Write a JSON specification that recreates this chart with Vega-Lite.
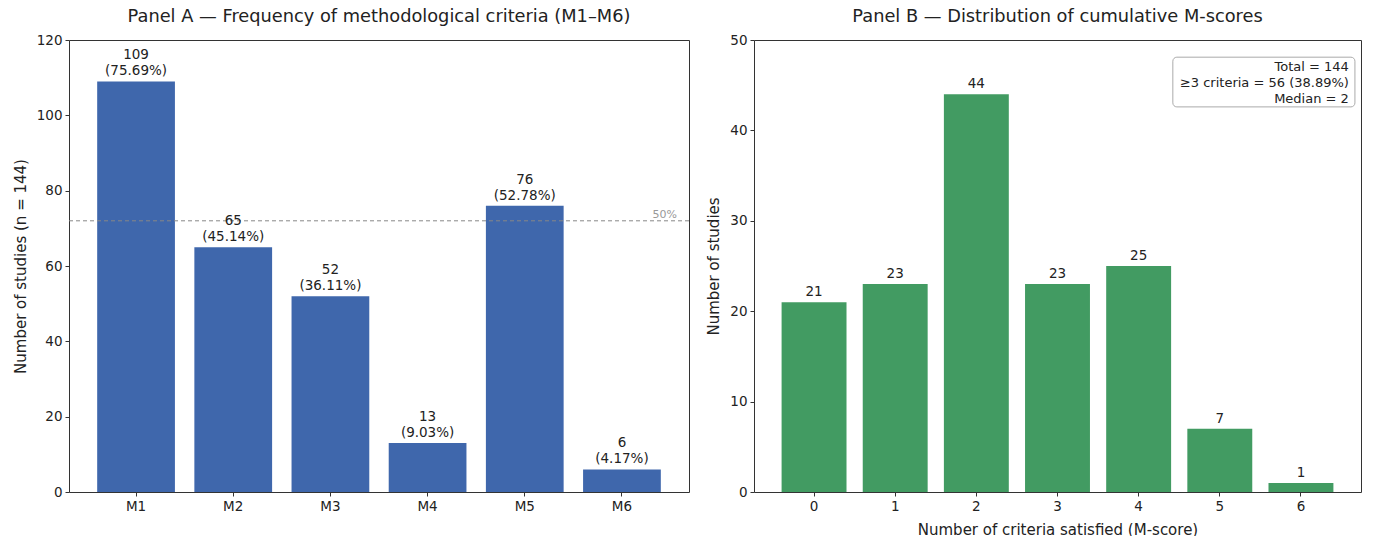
{
  "$schema": "https://vega.github.io/schema/vega-lite/v6.json",
  "background": "white",
  "padding": {"left": 12, "top": 7, "right": 5, "bottom": 5},
  "spacing": 16,
  "config": {
    "font": "DejaVu Sans",
    "view": {"stroke": "#333333", "strokeWidth": 1},
    "axis": {
      "domain": false, "grid": false, "tickColor": "#333333", "tickSize": 4,
      "labelFontSize": 13.5, "labelColor": "#222222", "labelPadding": 3,
      "titleFontSize": 15, "titleFontWeight": "normal", "titleColor": "#222222", "titlePadding": 8
    },
    "title": {"fontSize": 17.8, "fontWeight": "normal", "color": "#222222", "offset": 7, "anchor": "middle", "frame": "group"}
  },
  "datasets": {
    "criteria": [
      {"criterion": "M1", "count": 109, "label": "109\n(75.69%)"},
      {"criterion": "M2", "count": 65, "label": "65\n(45.14%)"},
      {"criterion": "M3", "count": 52, "label": "52\n(36.11%)"},
      {"criterion": "M4", "count": 13, "label": "13\n(9.03%)"},
      {"criterion": "M5", "count": 76, "label": "76\n(52.78%)"},
      {"criterion": "M6", "count": 6, "label": "6\n(4.17%)"}
    ],
    "scores": [
      {"score": 0, "count": 21},
      {"score": 1, "count": 23},
      {"score": 2, "count": 44},
      {"score": 3, "count": 23},
      {"score": 4, "count": 25},
      {"score": 5, "count": 7},
      {"score": 6, "count": 1}
    ],
    "single": [{}]
  },
  "hconcat": [
    {
      "title": "Panel A — Frequency of methodological criteria (M1–M6)",
      "width": 620,
      "height": 452,
      "layer": [
        {
          "data": {"name": "criteria"},
          "mark": {"type": "bar", "color": "#3F67AC"},
          "encoding": {
            "x": {"field": "criterion", "type": "nominal", "sort": null,
                  "scale": {"paddingInner": 0.2, "paddingOuter": 0.29},
                  "axis": {"title": null, "labelAngle": 0}},
            "y": {"field": "count", "type": "quantitative",
                  "scale": {"domain": [0, 120], "nice": false},
                  "axis": {"title": "Number of studies (n = 144)", "values": [0, 20, 40, 60, 80, 100, 120]}}
          }
        },
        {
          "data": {"name": "single"},
          "mark": {"type": "rule", "color": "#888888", "strokeDash": [4, 3], "strokeWidth": 1},
          "encoding": {"y": {"datum": 72, "type": "quantitative"}}
        },
        {
          "data": {"name": "single"},
          "mark": {"type": "text", "color": "#999999", "fontSize": 11, "align": "right", "baseline": "bottom", "dx": -12, "dy": -1},
          "encoding": {
            "x": {"value": "width"},
            "y": {"datum": 72, "type": "quantitative"},
            "text": {"value": "50%"}
          }
        },
        {
          "data": {"name": "criteria"},
          "mark": {"type": "text", "color": "#222222", "fontSize": 13.5, "lineBreak": "\n", "lineHeight": 16, "baseline": "bottom", "dy": -19},
          "encoding": {
            "x": {"field": "criterion", "type": "nominal", "sort": null},
            "y": {"field": "count", "type": "quantitative"},
            "text": {"field": "label"}
          }
        }
      ]
    },
    {
      "title": "Panel B — Distribution of cumulative M-scores",
      "width": 607,
      "height": 452,
      "resolve": {"scale": {"x": "independent"}, "axis": {"x": "independent"}},
      "layer": [
        {
          "data": {"name": "scores"},
          "layer": [
            {
              "mark": {"type": "bar", "color": "#429B62"},
              "encoding": {
                "x": {"field": "score", "type": "ordinal",
                      "scale": {"paddingInner": 0.2, "paddingOuter": 0.34},
                      "axis": {"title": "Number of criteria satisfied (M-score)", "labelAngle": 0, "titlePadding": 10}},
                "y": {"field": "count", "type": "quantitative",
                      "scale": {"domain": [0, 50], "nice": false},
                      "axis": {"title": "Number of studies", "values": [0, 10, 20, 30, 40, 50]}}
              }
            },
            {
              "mark": {"type": "text", "color": "#222222", "fontSize": 13.5, "baseline": "bottom", "dy": -3},
              "encoding": {
                "x": {"field": "score", "type": "ordinal"},
                "y": {"field": "count", "type": "quantitative"},
                "text": {"field": "count"}
              }
            }
          ]
        },
        {
          "data": {"name": "single"},
          "layer": [
            {
              "mark": {"type": "rect", "fill": "white", "stroke": "#AAAAAA", "strokeWidth": 1, "cornerRadius": 4},
              "encoding": {
                "x": {"datum": 0.69, "type": "quantitative", "scale": {"domain": [0, 1]}, "axis": null},
                "x2": {"datum": 0.99},
                "y": {"datum": 48.1, "type": "quantitative"},
                "y2": {"datum": 42.6}
              }
            },
            {
              "mark": {"type": "text", "color": "#222222", "fontSize": 13, "align": "right", "baseline": "top", "lineBreak": "\n", "lineHeight": 16},
              "encoding": {
                "x": {"datum": 0.98, "type": "quantitative", "scale": {"domain": [0, 1]}, "axis": null},
                "y": {"datum": 47.7, "type": "quantitative"},
                "text": {"value": "Total = 144\n≥3 criteria = 56 (38.89%)\nMedian = 2"}
              }
            }
          ]
        }
      ]
    }
  ]
}
